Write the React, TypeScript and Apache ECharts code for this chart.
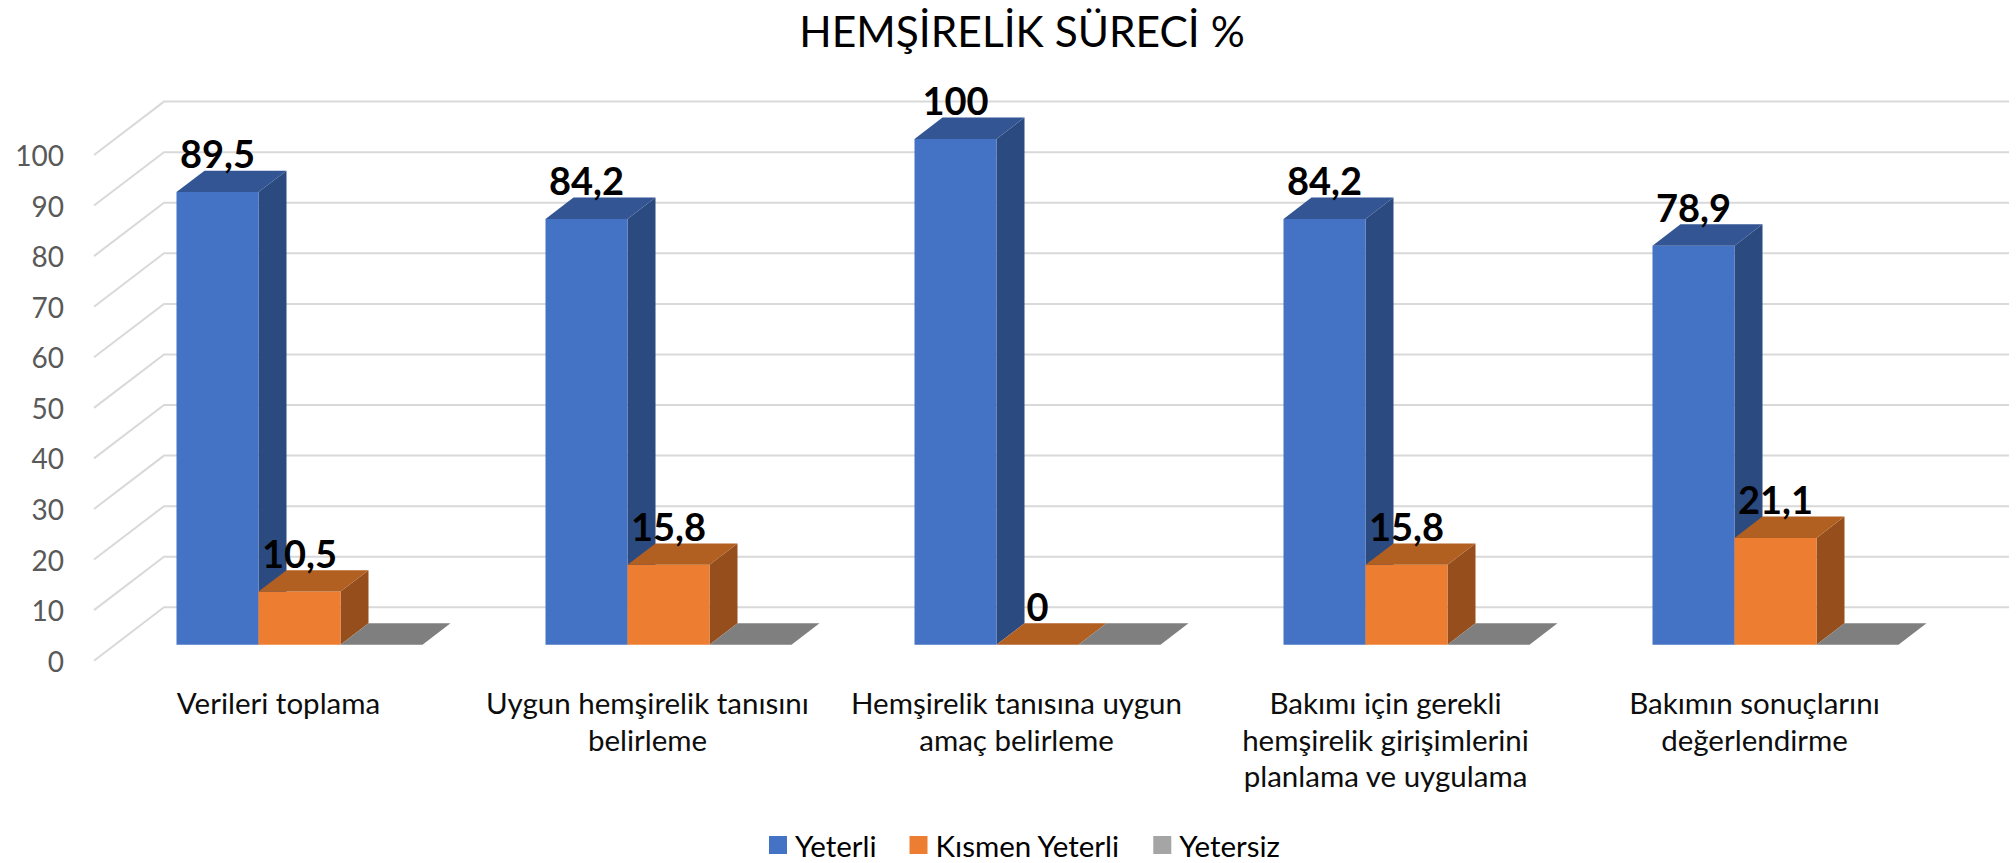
import React, { useEffect, useRef } from "react";
import * as echarts from "echarts";

const categories = [
  "Verileri toplama",
  "Uygun hemşirelik tanısını\nbelirleme",
  "Hemşirelik tanısına uygun\namaç belirleme",
  "Bakımı için gerekli\nhemşirelik girişimlerini\nplanlama ve uygulama",
  "Bakımın sonuçlarını\ndeğerlendirme",
];
const yeterli = [89.5, 84.2, 100, 84.2, 78.9];
const kismen = [10.5, 15.8, 0, 15.8, 21.1];
const yetersiz = [0, 0, 0, 0, 0];
const ticks = [0, 10, 20, 30, 40, 50, 60, 70, 80, 90, 100];

const FONT = "Lato";
const FLOOR_DX = 70;
const FLOOR_DY = 53.4;
const NEAR = 0.3;
const BAR_DEPTH = 0.4;
const GROUP_SLOTS = 4.5;

function barSeries(name: string, values: number[], index: number, front: string, top: string, side: string, labelled: boolean) {
  return {
    type: "custom",
    name,
    coordinateSystem: "cartesian2d",
    clip: false,
    itemStyle: { color: front },
    encode: { x: 0, y: 1 },
    data: values.map((v, i) => [i, v]),
    z: 5 + index,
    renderItem: (_: any, api: any) => {
      const i = api.value(0);
      const v = api.value(1);
      const slot = api.size([1, 0])[0];
      const w = slot / GROUP_SLOTS;
      const base = api.coord([i, 0]);
      const head = api.coord([i, v]);
      const ox = FLOOR_DX * NEAR;
      const oy = -FLOOR_DY * NEAR;
      const dx = FLOOR_DX * BAR_DEPTH;
      const dy = -FLOOR_DY * BAR_DEPTH;
      const x0 = base[0] + ox + (index - 1.5) * w;
      const x1 = x0 + w;
      const yb = base[1] + oy;
      const yt = head[1] + oy;
      const children: any[] = [];
      if (v > 0) {
        children.push({ type: "polygon", shape: { points: [[x1, yb], [x1 + dx, yb + dy], [x1 + dx, yt + dy], [x1, yt]] }, style: { fill: side } });
        children.push({ type: "rect", shape: { x: x0, y: yt, width: w, height: yb - yt }, style: { fill: front } });
      }
      children.push({ type: "polygon", shape: { points: [[x0, yt], [x1, yt], [x1 + dx, yt + dy], [x0 + dx, yt + dy]] }, style: { fill: top } });
      if (labelled) {
        children.push({
          type: "text",
          z2: 50,
          style: {
            x: (x0 + x1) / 2,
            y: yt - 39,
            text: String(v).replace(".", ","),
            fill: "#000000",
            font: `bold 38px ${FONT}`,
            align: "center",
            verticalAlign: "middle",
          },
        });
      }
      return { type: "group", children };
    },
  };
}

export default function App() {
  const ref = useRef<HTMLDivElement>(null);
  useEffect(() => {
    const chart = echarts.init(ref.current!, undefined, { renderer: "svg" });
    chart.setOption({
      animation: false,
      backgroundColor: "#ffffff",
      textStyle: { fontFamily: FONT },
      title: {
        text: "HEMŞİRELİK SÜRECİ %",
        left: 1017,
        top: 4,
        textAlign: "center",
        textStyle: { fontFamily: FONT, fontSize: 42.5, fontWeight: "normal", color: "#000000" },
      },
      legend: {
        data: ["Yeterli", "Kısmen Yeterli", "Yetersiz"],
        left: 764,
        top: 825,
        icon: "rect",
        itemWidth: 18,
        itemHeight: 18,
        itemGap: 33,
        textStyle: { fontFamily: FONT, fontSize: 29.5, color: "#000000", padding: [0, 0, 0, 3] },
      },
      grid: { left: 94, top: 155, width: 1845, height: 505.7 },
      xAxis: {
        type: "category",
        data: categories,
        axisLine: { show: false },
        axisTick: { show: false },
        axisLabel: { interval: 0, fontFamily: FONT, fontSize: 29.5, color: "#0d0d0d", lineHeight: 36.5, margin: 24, verticalAlign: "top" },
      },
      yAxis: {
        type: "value",
        min: 0,
        max: 100,
        interval: 10,
        axisLine: { show: false },
        axisTick: { show: false },
        splitLine: { show: false },
        axisLabel: { fontFamily: FONT, fontSize: 28, color: "#595959", margin: 30 },
      },
      series: [
        {
          type: "custom",
          name: "grid",
          coordinateSystem: "cartesian2d",
          clip: false,
          silent: true,
          encode: { y: 0 },
          data: ticks.map((t) => [t]),
          z: 1,
          renderItem: (params: any, api: any) => {
            const y = api.coord([0, api.value(0)])[1];
            const left = params.coordSys.x;
            const right = left + params.coordSys.width;
            return {
              type: "polyline",
              shape: { points: [[left, y], [left + FLOOR_DX, y - FLOOR_DY], [right + FLOOR_DX, y - FLOOR_DY]] },
              style: { stroke: "#d9d9d9", lineWidth: 2, fill: "none" },
            };
          },
        },
        barSeries("Yeterli", yeterli, 0, "#4472c4", "#335593", "#2b4a80", true),
        barSeries("Kısmen Yeterli", kismen, 1, "#ed7d31", "#b25f22", "#964f1c", true),
        barSeries("Yetersiz", yetersiz, 2, "#a5a5a5", "#7f7f7f", "#636363", false),
      ],
    });
    return () => chart.dispose();
  }, []);
  return <div ref={ref} style={{ position: "absolute", left: 0, top: 0, width: 2016, height: 863 }} />;
}
